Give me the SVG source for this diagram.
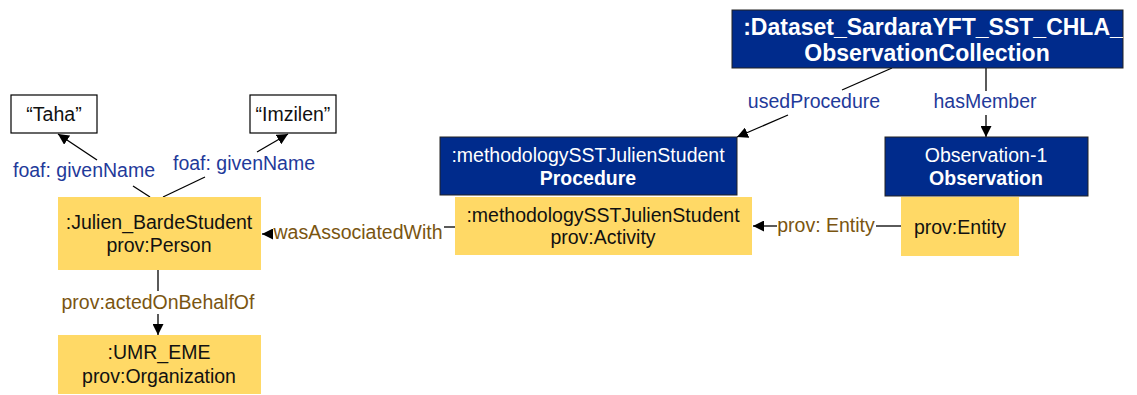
<svg xmlns="http://www.w3.org/2000/svg" width="1137" height="395" viewBox="0 0 1137 395">
<defs>
<marker id="ah" viewBox="0 0 10 10" refX="10" refY="5" markerWidth="11" markerHeight="11" markerUnits="userSpaceOnUse" orient="auto"><path d="M0,0 L10,5 L0,10 z" fill="#000"/></marker>
<style>
text{font-family:"Liberation Sans",Arial,sans-serif;font-size:19.5px;text-anchor:middle}
.y{fill:#FFD966}
.b{fill:#002B8C;stroke:#222;stroke-width:1}
.w{fill:#fff;stroke:#000;stroke-width:1.2}
.tw{fill:#fff}
.bold{font-weight:bold}
.big{font-size:23px}
.tk{fill:#111}
.lb{fill:#1F3A9A}
.lr{fill:#7A5511}
.c{stroke:#000;stroke-width:1.3;fill:none}
</style>
</defs>
<rect width="1137" height="395" fill="#fff"/>
<g id="connectors">
<line class="c" x1="150" y1="197" x2="133" y2="186"/>
<line class="c" x1="97" y1="160" x2="58" y2="134" marker-end="url(#ah)"/>
<text class="lb" x="84" y="177">foaf: givenName</text>
<line class="c" x1="163" y1="197" x2="205" y2="177"/>
<line class="c" x1="257" y1="152" x2="288" y2="134" marker-end="url(#ah)"/>
<text class="lb" x="244" y="170">foaf: givenName</text>
<line class="c" x1="158" y1="270" x2="158" y2="291"/>
<text class="lr" x="158" y="309">prov:actedOnBehalfOf</text>
<line class="c" x1="158" y1="314" x2="158" y2="335" marker-end="url(#ah)"/>
<line class="c" x1="455" y1="227" x2="444" y2="227"/>
<text class="lr" x="358" y="239">wasAssociatedWith</text>
<line class="c" x1="272" y1="234" x2="262" y2="234" marker-end="url(#ah)"/>
<line class="c" x1="892" y1="68" x2="842" y2="90"/>
<text class="lb" x="814" y="108">usedProcedure</text>
<line class="c" x1="788" y1="115" x2="737" y2="137" marker-end="url(#ah)"/>
<line class="c" x1="986" y1="68" x2="986" y2="91"/>
<text class="lb" x="985" y="108">hasMember</text>
<line class="c" x1="986" y1="115" x2="986" y2="137" marker-end="url(#ah)"/>
<line class="c" x1="901" y1="226" x2="876" y2="226"/>
<text class="lr" x="826" y="232">prov: Entity</text>
<line class="c" x1="777" y1="226" x2="753" y2="226" marker-end="url(#ah)"/>
</g>
<g id="taha">
<rect class="w" x="11" y="95" width="86" height="38"/>
<text class="tk" x="54" y="121">“Taha”</text>
</g>
<g id="imzilen">
<rect class="w" x="250" y="95" width="86" height="38"/>
<text class="tk" x="293" y="121">“Imzilen”</text>
</g>
<g id="julien">
<rect class="y" x="58" y="197" width="203" height="73"/>
<text class="tk" x="159" y="229">:Julien_BardeStudent</text>
<text class="tk" x="159" y="252">prov:Person</text>
</g>
<g id="umr">
<rect class="y" x="58" y="335" width="203" height="59"/>
<text class="tk" x="159" y="359">:UMR_EME</text>
<text class="tk" x="159" y="383">prov:Organization</text>
</g>
<g id="procedure">
<rect class="b" x="440" y="137" width="297" height="58"/>
<text class="tw" x="588" y="162">:methodologySSTJulienStudent</text>
<text class="tw bold" x="588" y="185">Procedure</text>
</g>
<g id="activity">
<rect class="y" x="455" y="197" width="297" height="58"/>
<text class="tk" x="603" y="222">:methodologySSTJulienStudent</text>
<text class="tk" x="603" y="244">prov:Activity</text>
</g>
<g id="dataset">
<rect class="b" x="732" y="10" width="391" height="58"/>
<text class="tw bold big" x="933" y="35">:Dataset_SardaraYFT_SST_CHLA_</text>
<text class="tw bold big" x="927" y="61">ObservationCollection</text>
</g>
<g id="observation">
<rect class="b" x="885" y="137" width="203" height="59"/>
<text class="tw" x="986" y="162">Observation-1</text>
<text class="tw bold" x="986" y="185">Observation</text>
</g>
<g id="entity">
<rect class="y" x="901" y="197" width="118" height="59"/>
<text class="tk" x="960" y="234">prov:Entity</text>
</g>
</svg>
